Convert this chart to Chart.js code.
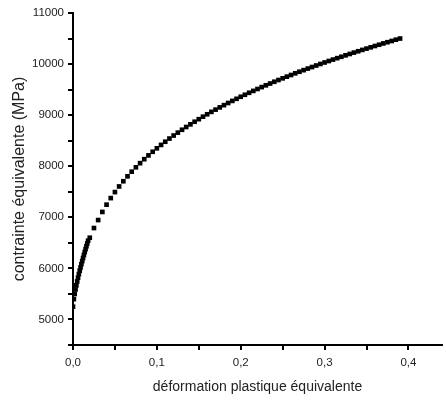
<!DOCTYPE html>
<html>
<head>
<meta charset="utf-8">
<script src="https://cdn.jsdelivr.net/npm/chart.js@4/dist/chart.umd.min.js"></script>
<style>
  html, body { margin: 0; padding: 0; background: #fff; }
  #wrap { width: 446px; height: 400px; }
</style>
</head>
<body>
<div id="wrap"><canvas id="chart" width="446" height="400"></canvas></div>
<script>
// plastic strain (x) and equivalent stress in MPa (y)
var strainDense = [0, 0.001, 0.002, 0.003, 0.004, 0.005, 0.006, 0.007, 0.008, 0.009,
  0.010, 0.011, 0.012, 0.013, 0.014, 0.015, 0.016, 0.017, 0.018];
var stressDense = [5250, 5398, 5499, 5587, 5668, 5745, 5817, 5887, 5954, 6018,
  6082, 6143, 6203, 6263, 6320, 6377, 6433, 6488, 6542];

var strain = [0.020, 0.025, 0.030, 0.035, 0.040, 0.045, 0.050, 0.055, 0.060, 0.065,
  0.070, 0.075, 0.080, 0.085, 0.090, 0.095, 0.100, 0.105, 0.110, 0.115,
  0.120, 0.125, 0.130, 0.135, 0.140, 0.145, 0.150, 0.155, 0.160, 0.165,
  0.170, 0.175, 0.180, 0.185, 0.190, 0.195, 0.200, 0.205, 0.210, 0.215,
  0.220, 0.225, 0.230, 0.235, 0.240, 0.245, 0.250, 0.255, 0.260, 0.265,
  0.270, 0.275, 0.280, 0.285, 0.290, 0.295, 0.300, 0.305, 0.310, 0.315,
  0.320, 0.325, 0.330, 0.335, 0.340, 0.345, 0.350, 0.355, 0.360, 0.365,
  0.370, 0.375, 0.380, 0.385, 0.390];
var stress = [6600, 6790, 6946, 7105, 7247, 7376, 7494, 7604, 7706, 7802,
  7893, 7979, 8060, 8138, 8212, 8283, 8351, 8417, 8480, 8542,
  8601, 8658, 8714, 8768, 8820, 8871, 8921, 8970, 9017, 9064,
  9108, 9152, 9196, 9238, 9279, 9320, 9360, 9399, 9438, 9475,
  9512, 9549, 9584, 9619, 9654, 9688, 9721, 9754, 9786, 9819,
  9850, 9881, 9912, 9942, 9972, 10002, 10031, 10060, 10088, 10116,
  10143, 10171, 10198, 10225, 10251, 10277, 10303, 10328, 10354, 10379,
  10404, 10428, 10452, 10477, 10500];

var xTicks = [0, 0.05, 0.1, 0.15, 0.2, 0.25, 0.3, 0.35, 0.4];
var yTicks = [4500, 5000, 5500, 6000, 6500, 7000, 7500, 8000, 8500, 9000, 9500, 10000, 10500, 11000];

var points = [];
strainDense.forEach(function (x, i) { points.push({ x: x, y: stressDense[i] }); });
strain.forEach(function (x, i) { points.push({ x: x, y: stress[i] }); });

var font = 'Arial, "Liberation Sans", sans-serif';

new Chart(document.getElementById('chart'), {
  type: 'scatter',
  data: {
    datasets: [{
      data: points,
      pointStyle: 'rect',
      pointRadius: 3.3,
      pointBorderWidth: 0,
      backgroundColor: '#000',
      borderColor: '#000',
      showLine: false
    }]
  },
  options: {
    responsive: false,
    animation: false,
    layout: { padding: { top: 13, right: 0, bottom: 4, left: 10 } },
    plugins: { legend: { display: false }, tooltip: { enabled: false } },
    scales: {
      x: {
        type: 'linear',
        min: 0,
        max: 0.44,
        afterBuildTicks: function (scale) {
          scale.ticks = xTicks.map(function (v) { return { value: v }; });
        },
        afterFit: function (scale) { scale.height = 51; },
        border: { color: '#000', width: 2 },
        grid: { drawOnChartArea: false, drawTicks: true, tickLength: 5, color: '#000', lineWidth: 2 },
        ticks: {
          autoSkip: false,
          maxRotation: 0,
          padding: 6,
          color: '#222',
          font: { family: font, size: 11.5 },
          callback: function (v) {
            if (Math.abs(v * 10 - Math.round(v * 10)) > 1e-6) return '';
            return v.toFixed(1).replace('.', ',');
          }
        },
        title: {
          display: true,
          text: 'déformation plastique équivalente',
          color: '#222',
          font: { family: font, size: 14 },
          padding: { top: 0, bottom: 0 }
        }
      },
      y: {
        type: 'linear',
        min: 4500,
        max: 11000,
        afterBuildTicks: function (scale) {
          scale.ticks = yTicks.map(function (v) { return { value: v }; });
        },
        afterFit: function (scale) { scale.width = 63; },
        border: { color: '#000', width: 2 },
        grid: { drawOnChartArea: false, drawTicks: true, tickLength: 5, color: '#000', lineWidth: 2 },
        ticks: {
          autoSkip: false,
          padding: 4,
          color: '#222',
          font: { family: font, size: 11.5 },
          callback: function (v) { return v % 1000 === 0 ? String(v) : ''; }
        },
        title: {
          display: true,
          text: 'contrainte équivalente (MPa)',
          color: '#222',
          font: { family: font, size: 16 },
          padding: { top: 0, bottom: 0 }
        }
      }
    }
  }
});
</script>
</body>
</html>
